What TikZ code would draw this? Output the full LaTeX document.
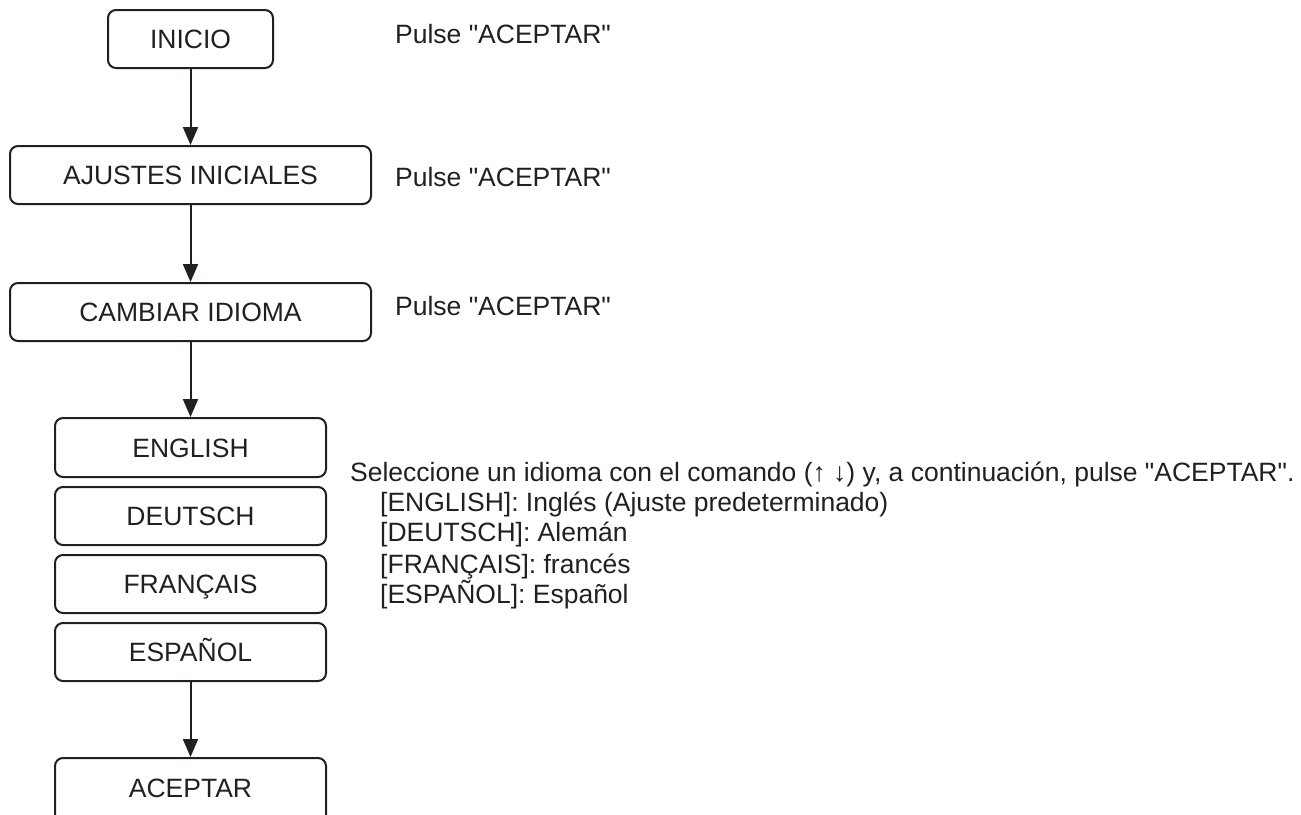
\documentclass[tikz,border=0pt]{standalone}
\usepackage{fontspec}
\setmainfont{Liberation Sans}[Ligatures=TeXOff]
\usetikzlibrary{arrows.meta}
\definecolor{ink}{HTML}{231F20}
\begin{document}
\begin{tikzpicture}[x=1pt,y=-1pt,
  every node/.style={text=ink, font=\fontsize{26.5}{30}\selectfont},
  flowbox/.style={draw=ink, line width=2pt, rounded corners=8pt, inner sep=0pt,
    text height=19pt, text depth=0pt, align=center},
  flowarrow/.style={draw=ink, line width=2pt, -{Triangle[length=18pt,width=15pt]}},
  note/.style={anchor=base west, inner sep=0pt}
]
\useasboundingbox (0,0) rectangle (1301,814);

\node[flowbox, minimum width=165pt, minimum height=58pt] (inicio) at (190.5,39) {INICIO};
\node[flowbox, minimum width=361pt, minimum height=58pt] (ajustes) at (190.5,175) {AJUSTES INICIALES};
\node[flowbox, minimum width=361pt, minimum height=58pt] (cambiar) at (190.5,312) {CAMBIAR IDIOMA};
\node[flowbox, minimum width=271pt, minimum height=59pt] (english) at (190.5,447.5) {ENGLISH};
\node[flowbox, minimum width=271pt, minimum height=58pt] (deutsch) at (190.5,516) {DEUTSCH};
\node[flowbox, minimum width=271pt, minimum height=58pt] (francais) at (190.5,584) {FRANÇAIS};
\node[flowbox, minimum width=271pt, minimum height=58pt] (espanol) at (190.5,652) {ESPAÑOL};
\node[flowbox, minimum width=271pt, minimum height=90pt, text height=0pt] (aceptar) at (190.5,803) {};
\node[text height=19pt, text depth=0pt, inner sep=0pt] (aceptartxt) at (190.5,788) {ACEPTAR};

\draw[flowarrow] (inicio) -- (ajustes);
\draw[flowarrow] (ajustes) -- (cambiar);
\draw[flowarrow] (cambiar) -- (english);
\draw[flowarrow] (espanol) -- (aceptar);

\node[note] (p1) at (395,43.3) {Pulse "ACEPTAR"};
\node[note] (p2) at (395,186.7) {Pulse "ACEPTAR"};
\node[note] (p3) at (395,315) {Pulse "ACEPTAR"};

\node[note] (sel) at (350,481.7) {Seleccione un idioma con el comando (↑ ↓) y, a continuación, pulse "ACEPTAR".};
\node[note] (l1) at (380,511.7) {[ENGLISH]: Inglés (Ajuste predeterminado)};
\node[note] (l2) at (380,541.7) {[DEUTSCH]: Alemán};
\node[note] (l3) at (380,573.3) {[FRANÇAIS]: francés};
\node[note] (l4) at (380,603.3) {[ESPAÑOL]: Español};
\end{tikzpicture}
\end{document}
